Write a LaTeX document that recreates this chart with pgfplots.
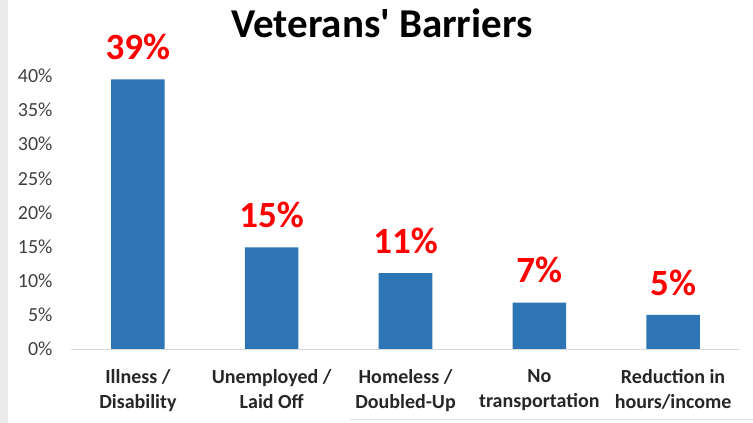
\documentclass[border=0pt]{standalone}
\usepackage{pgfplots}
\pgfplotsset{compat=1.18}
\usepackage{fontspec}
\setmainfont{Carlito}
\definecolor{barblue}{HTML}{2E75B6}
\definecolor{ticktxt}{HTML}{404040}
\definecolor{cattxt}{HTML}{262626}
\definecolor{axgray}{HTML}{D9D9D9}

\begin{document}
\begin{tikzpicture}
  \path[use as bounding box] (0,0) rectangle (753pt,423pt);
  \fill[black!8] (0,0) rectangle (8pt,423pt);
  \draw[black!12] (350pt,4pt) -- (753pt,4pt);
  \node[font=\fontsize{41}{48}\selectfont\bfseries] at (382pt,400pt) {Veterans\textquotesingle\ Barriers};
  \begin{axis}[
      at={(71pt,74pt)}, anchor=south west,
      scale only axis,
      width=669pt, height=273pt,
      xmin=-0.5, xmax=4.5,
      ymin=0, ymax=40,
      axis x line*=bottom,
      axis y line=none,
      x axis line style={axgray, line width=0.8pt, -},
      xtick={0,1,2,3,4},
      xticklabels={{Illness /\\Disability},{Unemployed /\\Laid Off},{Homeless /\\Doubled-Up},{No\\transportation},{Reduction in\\hours/income}},
      xticklabel style={align=center, font=\fontsize{20}{25}\selectfont\bfseries, text=cattxt, yshift=-17pt},
      major x tick style={draw=none},
      extra x ticks={-0.5,0.5,1.5,2.5,3.5,4.5},
      extra x tick labels={},
      extra x tick style={major tick length=6pt, tick align=outside, tick style={axgray, line width=0.8pt}},
      clip=false,
      bar width=0.4,
      point meta=explicit symbolic,
      nodes near coords,
      nodes near coords style={font=\fontsize{37}{44}\selectfont\bfseries, text=red, yshift=16pt},
    ]
    \addplot[ybar, fill=barblue, draw=none] coordinates {
      (0,39.5) [39\%]
      (1,14.9) [15\%]
      (2,11.1) [11\%]
      (3,6.8) [7\%]
      (4,5.0) [5\%]
    };
  \end{axis}
  % y tick labels drawn as a separate axis sharing the frame
  \begin{axis}[
      at={(71pt,74pt)}, anchor=south west,
      scale only axis,
      width=669pt, height=273pt,
      xmin=-0.5, xmax=4.5,
      ymin=0, ymax=40,
      axis x line=none,
      axis y line*=left,
      y axis line style={draw=none},
      ytick={0,5,...,40},
      yticklabels={0\%,5\%,10\%,15\%,20\%,25\%,30\%,35\%,40\%},
      yticklabel style={font=\fontsize{20}{24}\selectfont, text=ticktxt, xshift=-15pt},
      major y tick style={draw=none},
    ]
  \end{axis}
\end{tikzpicture}
\end{document}
